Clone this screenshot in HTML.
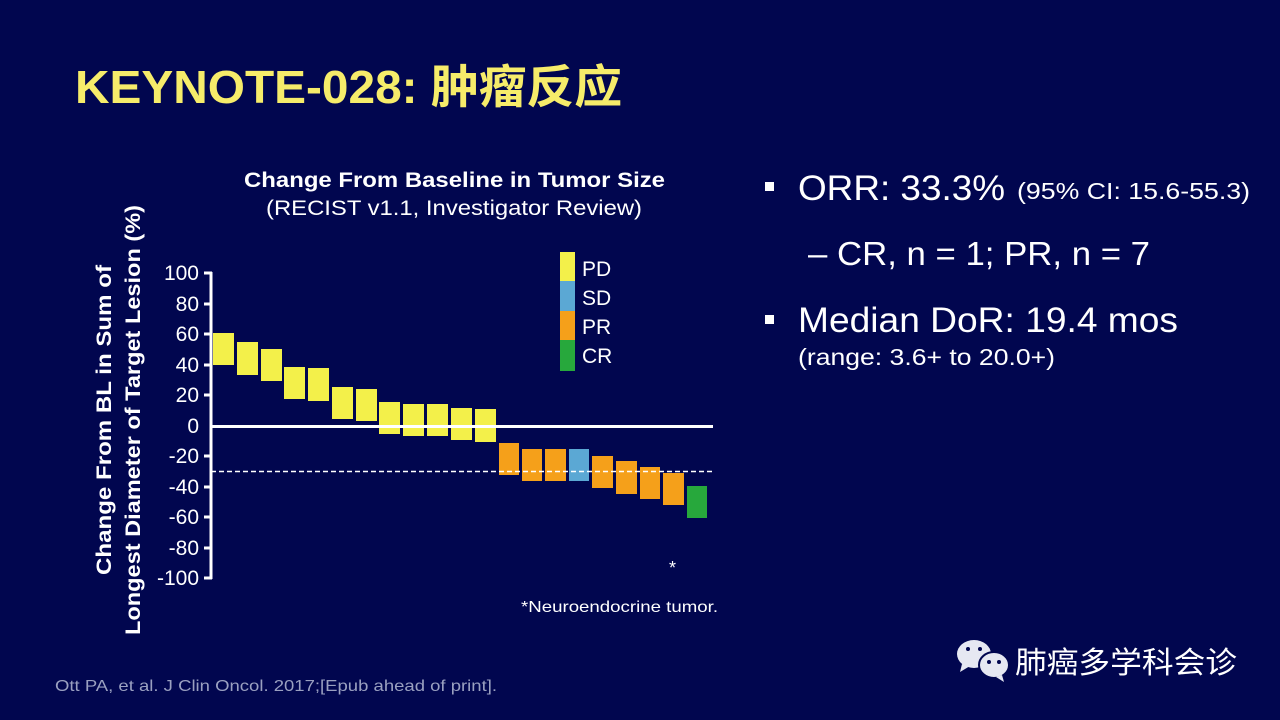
<!DOCTYPE html>
<html><head><meta charset="utf-8"><style>
html,body{margin:0;padding:0;background:#01064f;}
svg{display:block}
text{font-family:"Liberation Sans","Noto Sans CJK SC",sans-serif;}
</style></head><body>
<svg width="1280" height="720" viewBox="0 0 1280 720" xmlns="http://www.w3.org/2000/svg">
<rect width="1280" height="720" fill="#01064f"/>
<text x="75" y="103" font-size="46" font-weight="bold" fill="#f6ec6a" textLength="547" lengthAdjust="spacingAndGlyphs">KEYNOTE-028: 肿瘤反应</text>

<text x="244" y="187" font-size="21" font-weight="bold" fill="#fff" textLength="421" lengthAdjust="spacingAndGlyphs">Change From Baseline in Tumor Size</text>
<text x="266" y="215" font-size="21" fill="#fff" textLength="376" lengthAdjust="spacingAndGlyphs">(RECIST v1.1, Investigator Review)</text>

<g font-size="21" font-weight="bold" fill="#fff">
<text transform="translate(111,575) rotate(-90)" textLength="310" lengthAdjust="spacingAndGlyphs">Change From BL in Sum of</text>
<text transform="translate(140,635) rotate(-90)" textLength="430" lengthAdjust="spacingAndGlyphs">Longest Diameter of Target Lesion (%)</text>
</g>

<g font-size="21" fill="#fff" text-anchor="end">
<text x="199" y="280">100</text><text x="199" y="311">80</text><text x="199" y="341">60</text>
<text x="199" y="372">40</text><text x="199" y="402">20</text><text x="199" y="433">0</text>
<text x="199" y="463">-20</text><text x="199" y="494">-40</text><text x="199" y="524">-60</text>
<text x="199" y="555">-80</text><text x="199" y="585">-100</text>
</g>
<g stroke="#fff" stroke-width="3">
<line x1="211" y1="272" x2="211" y2="579"/>
<line x1="204" y1="273" x2="212" y2="273"/><line x1="204" y1="304" x2="212" y2="304"/>
<line x1="204" y1="334" x2="212" y2="334"/><line x1="204" y1="365" x2="212" y2="365"/>
<line x1="204" y1="395" x2="212" y2="395"/><line x1="204" y1="456" x2="212" y2="456"/>
<line x1="204" y1="487" x2="212" y2="487"/><line x1="204" y1="517" x2="212" y2="517"/>
<line x1="204" y1="548" x2="212" y2="548"/><line x1="204" y1="578" x2="212" y2="578"/>
</g>

<g fill="#f3f04a">
<rect x="213" y="333" width="21" height="32"/>
<rect x="237" y="342" width="21" height="33"/>
<rect x="261" y="349" width="21" height="32"/>
<rect x="284" y="367" width="21" height="32"/>
<rect x="308" y="368" width="21" height="33"/>
<rect x="332" y="387" width="21" height="32"/>
<rect x="356" y="389" width="21" height="32"/>
<rect x="379" y="402" width="21" height="32"/>
<rect x="403" y="404" width="21" height="32"/>
<rect x="427" y="404" width="21" height="32"/>
<rect x="451" y="408" width="21" height="32"/>
<rect x="475" y="409" width="21" height="33"/>
</g>
<g fill="#f5a01a">
<rect x="499" y="443" width="20" height="32"/>
<rect x="522" y="449" width="20" height="32"/>
<rect x="545" y="449" width="21" height="32"/>
<rect x="592" y="456" width="21" height="32"/>
<rect x="616" y="461" width="21" height="33"/>
<rect x="640" y="467" width="20" height="32"/>
<rect x="663" y="473" width="21" height="32"/>
</g>
<rect x="569" y="449" width="20" height="32" fill="#5ba8d4"/>
<rect x="687" y="486" width="20" height="32" fill="#27a83c"/>

<line x1="211" y1="426.5" x2="713" y2="426.5" stroke="#fff" stroke-width="3"/>
<line x1="211" y1="471.5" x2="713" y2="471.5" stroke="#fff" stroke-width="1.5" stroke-dasharray="5,3"/>

<rect x="560" y="252" width="15" height="29" fill="#f3f04a"/>
<rect x="560" y="281" width="15" height="30" fill="#5ba8d4"/>
<rect x="560" y="311" width="15" height="29" fill="#f5a01a"/>
<rect x="560" y="340" width="15" height="31" fill="#27a83c"/>
<g font-size="21" fill="#fff">
<text x="582" y="276">PD</text><text x="582" y="305">SD</text>
<text x="582" y="334">PR</text><text x="582" y="363">CR</text>
</g>
<text x="669" y="574" font-size="18" fill="#fff">*</text>
<text x="521" y="612" font-size="16" fill="#fff" textLength="197" lengthAdjust="spacingAndGlyphs">*Neuroendocrine tumor.</text>

<rect x="765" y="182" width="9" height="9" fill="#fff"/>
<text x="798" y="200" font-size="35" fill="#fff" textLength="207" lengthAdjust="spacingAndGlyphs">ORR: 33.3%</text>
<text x="1017" y="199" font-size="23" fill="#fff" textLength="233" lengthAdjust="spacingAndGlyphs">(95% CI: 15.6-55.3)</text>
<text x="808" y="265" font-size="33" fill="#fff" textLength="342" lengthAdjust="spacingAndGlyphs">– CR, n = 1; PR, n = 7</text>
<rect x="765" y="315" width="9" height="9" fill="#fff"/>
<text x="798" y="332" font-size="35" fill="#fff" textLength="380" lengthAdjust="spacingAndGlyphs">Median DoR: 19.4 mos</text>
<text x="798" y="365" font-size="23" fill="#fff" textLength="257" lengthAdjust="spacingAndGlyphs">(range: 3.6+ to 20.0+)</text>

<text x="55" y="691" font-size="16" fill="#9aa0c0" textLength="442" lengthAdjust="spacingAndGlyphs">Ott PA, et al. J Clin Oncol. 2017;[Epub ahead of print].</text>

<g fill="#e6e8f2">
<ellipse cx="974" cy="654" rx="17" ry="14"/>
<path d="M962 664 L960 672 L970 666 Z"/>
<ellipse cx="994" cy="665" rx="15" ry="13" stroke="#01064f" stroke-width="2"/>
<path d="M1002 675 L1004 682 L996 677 Z"/>
</g>
<g fill="#01064f"><circle cx="968" cy="649" r="2"/><circle cx="980" cy="649" r="2"/><circle cx="989" cy="662" r="2"/><circle cx="999" cy="662" r="2"/></g>
<text x="1015" y="673" font-size="30" fill="#fff" textLength="222" lengthAdjust="spacingAndGlyphs">肺癌多学科会诊</text>
</svg>
</body></html>
